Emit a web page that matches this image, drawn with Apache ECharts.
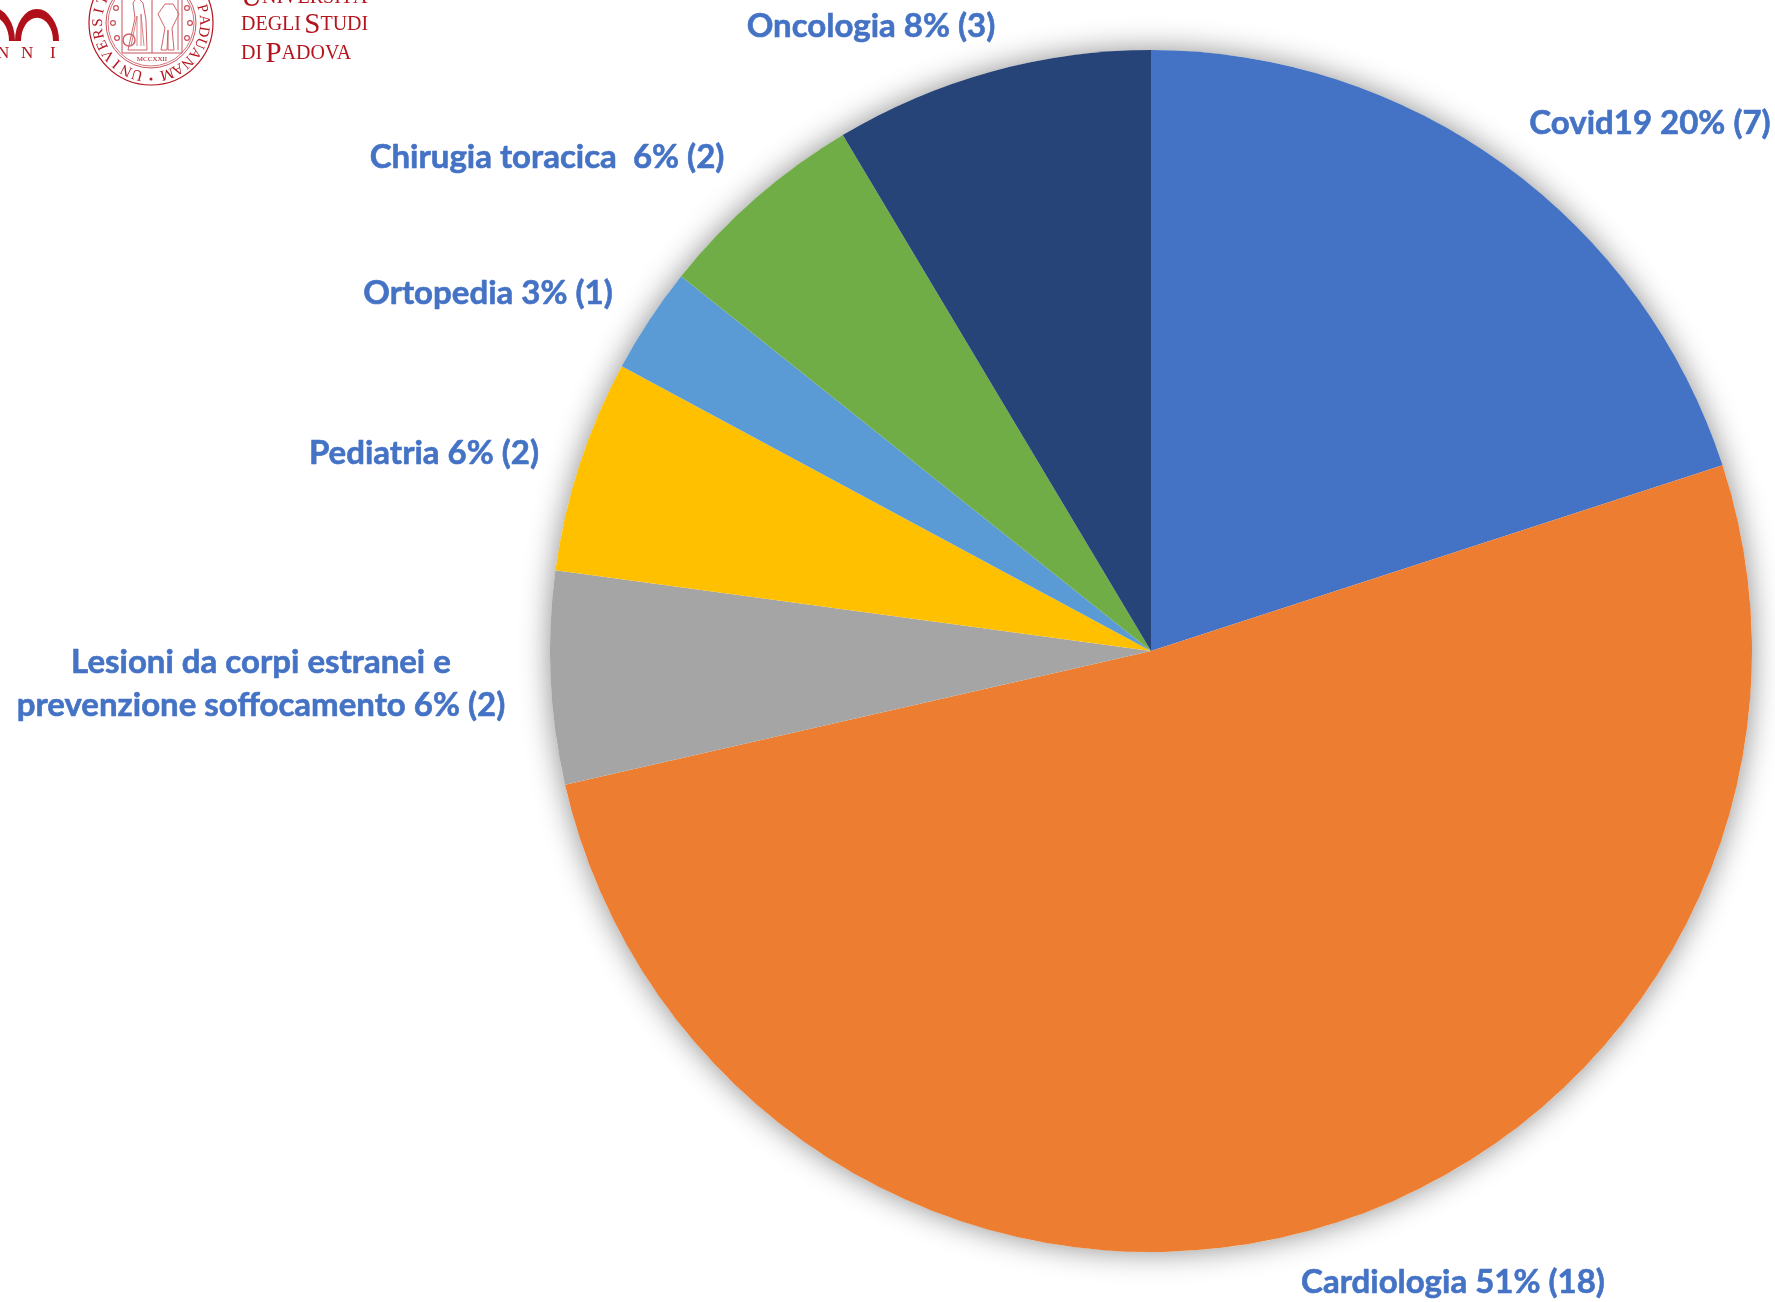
<!DOCTYPE html>
<html>
<head>
<meta charset="utf-8">
<style>html,body{margin:0;padding:0;background:#fff;overflow:hidden}#c{width:1775px;height:1302px}</style>
<script src="https://cdn.jsdelivr.net/npm/echarts@6/dist/echarts.min.js"></script>
</head>
<body>
<div id="c"></div>
<script>
const categories = ['Covid19', 'Cardiologia', 'Lesioni da corpi estranei e\nprevenzione soffocamento', 'Pediatria', 'Ortopedia', 'Chirugia toracica ', 'Oncologia'];
const counts = [7, 18, 2, 2, 1, 2, 3];
const percents = [20, 51, 6, 6, 3, 6, 8];
const colors = ['#4472C4', '#ED7D31', '#A5A5A5', '#FFC000', '#5B9BD5', '#70AD47', '#264478'];
const labelAnchors = [[1650, 123], [1453, 1282], [261, 684], [424, 453], [488, 293], [547, 157], [871, 26]];

const RED = '#B3141D', SERIF = '"Liberation Serif"';
const logo = [];
function stroke(c, w) { return { stroke: c || RED, lineWidth: w || 1, fill: 'none' }; }
function circle(cx, cy, r, w, c) { logo.push({ type: 'circle', shape: { cx, cy, r }, style: stroke(c, w), silent: true }); }
function text(x, y, t, font, extra) {
  logo.push({ type: 'text', x, y, silent: true, style: Object.assign({ text: t, font, fill: RED, verticalAlign: 'middle' }, extra || {}) });
}
function line(pts, w, c) { logo.push({ type: 'polyline', shape: { points: pts }, style: stroke(c, w), silent: true }); }

// "800 anni" mark
[[37, 41, 19], [-8, 41, 20]].forEach(function (a) {
  logo.push({ type: 'arc', silent: true, x: a[0], y: a[1], scaleY: 1.45,
    shape: { cx: 0, cy: 0, r: a[2], startAngle: Math.PI, endAngle: 2 * Math.PI },
    style: { stroke: '#B0101A', lineWidth: 6, fill: 'none' } });
});
text(-2, -4, '1222 - 2022', 'bold 13px ' + SERIF);
text(-3, 54, 'N', '17px ' + SERIF);
text(21, 54, 'N', '17px ' + SERIF);
text(50, 54, 'I', '17px ' + SERIF);

// Seal
circle(151, 23, 62, 1.2); circle(151, 23, 45, 1, '#C9525A'); circle(151, 23, 43, 0.8, '#C9525A');
line([[122, -5], [122, 53], [182, 53], [182, -5]], 1, '#C9525A');
line([[152, -5], [152, 53]], 1, '#C9525A');
line([[128, 50], [135, 18], [133, 3], [137, -3], [143, 3], [146, 20], [147, 50], [128, 50]], 1, '#D0646B');
line([[131, 46], [137, 16], [137, 46]], 0.8, '#D0646B');
line([[141, 46], [141, 14], [144, 46]], 0.8, '#D0646B');
line([[161, 50], [165, 28], [158, 14], [165, 4], [173, 4], [179, 14], [172, 28], [174, 50], [168, 50], [168, 30], [167, 50], [161, 50]], 1, '#D0646B');
line([[178, 0], [178, 50]], 1, '#D0646B');
circle(129, 40, 6, 1.5, '#D0646B');
[[113, 23], [117, 38], [116, 8], [190, 23], [187, 38], [187, 8]].forEach(p => circle(p[0], p[1], 2.4, 1.2, '#C9525A'));
text(152, 59, 'MCCXXII', '7px ' + SERIF, { align: 'center' });
logo.push({ type: 'circle', silent: true, shape: { cx: 151, cy: 79, r: 1.5 }, style: { fill: RED } });
Array.from('UNIVERSITAS STUDII PADUANAM').forEach(function (ch, i) {
  const a = (195 + i * 12.6) * Math.PI / 180;
  logo.push({ type: 'text', silent: true, x: 151 + 53 * Math.sin(a), y: 23 - 53 * Math.cos(a), rotation: -a,
    style: { text: ch, font: '15px ' + SERIF, fill: RED, align: 'center', verticalAlign: 'middle' } });
});

// University name in small caps
const caps = { a: { font: '29px ' + SERIF, fill: RED }, b: { font: '20px ' + SERIF, fill: RED } };
[[-2, '{a|U}{b|NIVERSITÀ}'], [25, '{b|DEGLI} {a|S}{b|TUDI}'], [54, '{b|DI} {a|P}{b|ADOVA}']].forEach(function (r) {
  logo.push({ type: 'text', silent: true, x: 241, y: r[0], style: { text: r[1], rich: caps, verticalAlign: 'middle' } });
});

const total = counts.reduce((a, b) => a + b, 0);
const chart = echarts.init(document.getElementById('c'), null, { renderer: 'canvas' });
chart.setOption({
  animation: false,
  backgroundColor: '#fff',
  graphic: { elements: logo },
  series: [
    { // soft shadow under the whole pie
      type: 'pie', silent: true, center: [1151, 651], radius: [0, 601], z: 1,
      data: [{ value: total, itemStyle: { color: '#fff', shadowBlur: 30, shadowColor: 'rgba(0,0,0,0.45)' } }],
      label: { show: false }, labelLine: { show: false }
    },
    {
      type: 'pie', silent: true, center: [1151, 651], radius: [0, 601], startAngle: 90, clockwise: true, z: 2,
      avoidLabelOverlap: false, stillShowZeroSum: false,
      data: categories.map((name, i) => ({ name, value: counts[i], itemStyle: { color: colors[i] } })),
      itemStyle: { borderWidth: 0 },
      label: {
        show: true, position: 'outside', color: '#4472C4', fontFamily: 'Lato', fontWeight: 'bold', fontSize: 33,
        lineHeight: 43, align: 'center', textBorderColor: '#4472C4', textBorderWidth: 0.6,
        formatter: p => p.name + ' ' + percents[p.dataIndex] + '% (' + counts[p.dataIndex] + ')'
      },
      labelLine: { show: false },
      labelLayout: p => ({ x: labelAnchors[p.dataIndex][0], y: labelAnchors[p.dataIndex][1], align: 'center', verticalAlign: 'middle' })
    }
  ]
});
</script>
</body>
</html>
